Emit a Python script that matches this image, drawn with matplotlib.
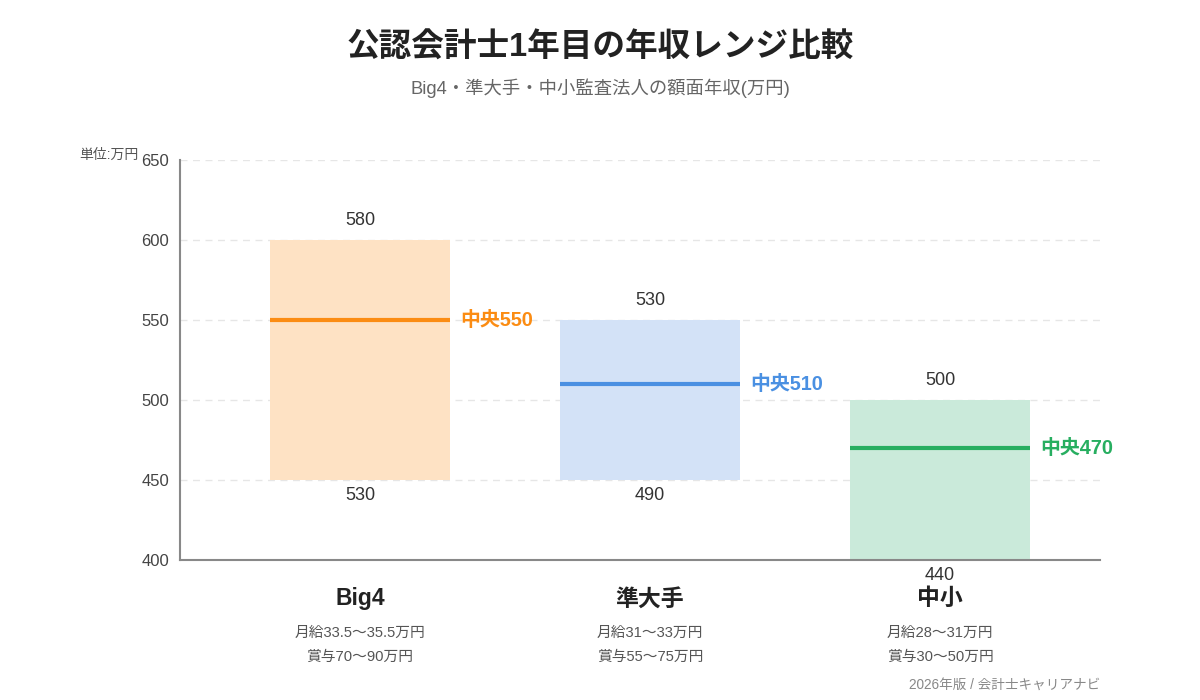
import matplotlib.pyplot as plt
from matplotlib.ticker import MultipleLocator

plt.rcParams['font.family'] = ['Liberation Sans', 'Noto Sans CJK JP', 'DejaVu Sans']

# data
categories = ['Big4', '準大手', '中小']
bar_low = [450, 450, 400]      # drawn extent of each box
bar_high = [600, 550, 500]
label_high = [580, 530, 500]   # printed range labels
label_low = [530, 490, 440]
medians = [550, 510, 470]
monthly = ['月給33.5〜35.5万円', '月給31〜33万円', '月給28〜31万円']
bonus = ['賞与70〜90万円', '賞与55〜75万円', '賞与30〜50万円']

line_colors = ['#fb8c13', '#4a90e2', '#27ae60']
fill_colors = ['#fee2c4', '#d3e2f7', '#caeada']

fig = plt.figure(figsize=(12, 7), dpi=100)
ax = fig.add_axes([0.15, 0.2, 0.7667, 0.5714])

x = list(range(len(categories)))
w = 0.6207
for i in x:
    ax.bar(i, bar_high[i] - bar_low[i], bottom=bar_low[i], width=w,
           color=fill_colors[i], zorder=2)
    ax.plot([i - w / 2, i + w / 2], [medians[i], medians[i]],
            color=line_colors[i], lw=3, zorder=3, solid_capstyle='butt')
    ax.annotate(f'中央{medians[i]}', (i + w / 2, medians[i]), xytext=(7.5, 0),
                textcoords='offset points', ha='left', va='center',
                fontsize=14.3, fontweight='bold', color=line_colors[i])
    ax.annotate(str(label_high[i]), (i, bar_high[i]), xytext=(0, 14.2),
                textcoords='offset points', ha='center', va='center',
                fontsize=13, color='#333333')
    ax.annotate(str(label_low[i]), (i, bar_low[i]), xytext=(0, -11.4),
                textcoords='offset points', ha='center', va='center',
                fontsize=13, color='#333333')
    ax.annotate(categories[i], (i, 0), xycoords=('data', 'axes fraction'),
                xytext=(0, -28), textcoords='offset points', ha='center',
                va='center', fontsize=16.5, fontweight='bold', color='#222222')
    ax.annotate(monthly[i], (i, 0), xycoords=('data', 'axes fraction'),
                xytext=(0, -52.4), textcoords='offset points', ha='center',
                va='center', fontsize=10.6, color='#555555')
    ax.annotate(bonus[i], (i, 0), xycoords=('data', 'axes fraction'),
                xytext=(0, -69.8), textcoords='offset points', ha='center',
                va='center', fontsize=10.6, color='#555555')

ax.set_xlim(-0.6207, 2.5517)
ax.set_ylim(400, 650)
ax.yaxis.set_major_locator(MultipleLocator(50))
ax.set_xticks([])
ax.tick_params(axis='y', length=0, pad=8, labelsize=12, labelcolor='#444444')
ax.grid(axis='y', color='#e6e6e6', linestyle=(0, (5, 4)), lw=1, zorder=0)
for s in ['top', 'right']:
    ax.spines[s].set_visible(False)
for s in ['left', 'bottom']:
    ax.spines[s].set_color('#888888')
    ax.spines[s].set_linewidth(1.5)

fig.text(0.5, 1 - 48 / 700, '公認会計士1年目の年収レンジ比較', ha='center', va='center',
         fontsize=23.5, fontweight='bold', color='#222222')
fig.text(0.5, 1 - 88 / 700, 'Big4・準大手・中小監査法人の額面年収(万円)', ha='center',
         va='center', fontsize=13.2, color='#666666')
fig.text(139 / 1200, 1 - 155 / 700, '単位:万円', ha='right', va='center',
         fontsize=10, color='#555555')
fig.text(1100 / 1200, 1 - 685 / 700, '2026年版 / 会計士キャリアナビ', ha='right',
         va='center', fontsize=9.8, color='#888888')

fig.savefig('out.png', dpi=100)
